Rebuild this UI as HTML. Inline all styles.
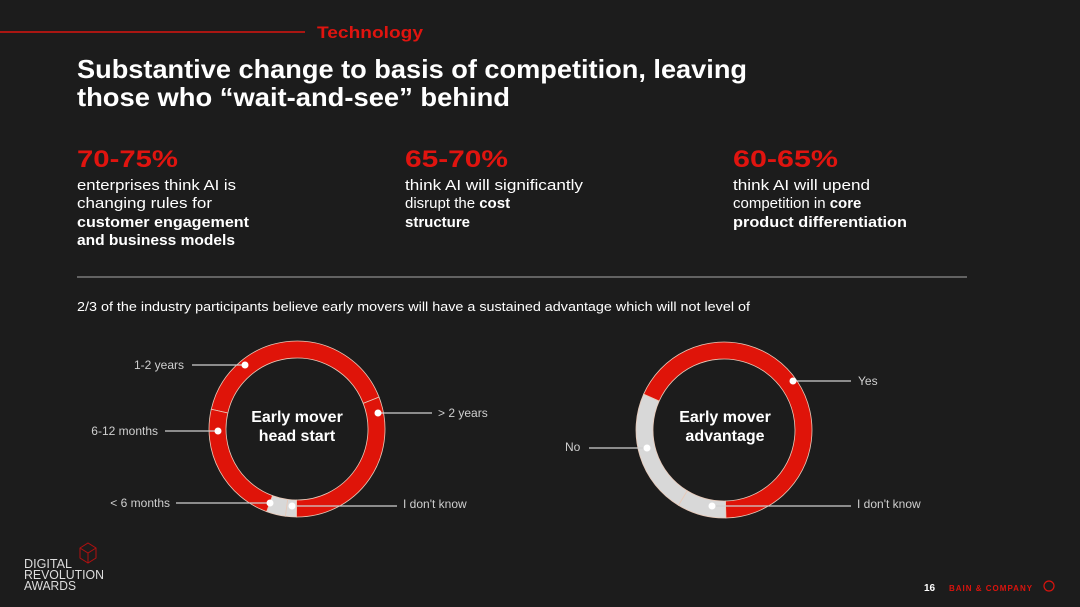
<!DOCTYPE html>
<html><head><meta charset="utf-8"><style>
html,body{margin:0;padding:0;background:#1c1c1c;}
svg{display:block;font-family:"Liberation Sans",sans-serif;}
</style></head><body>
<svg id="s" width="1080" height="607" viewBox="0 0 1080 607">
<rect width="1080" height="607" fill="#1c1c1c"/>
<line x1="0" y1="32" x2="305" y2="32" stroke="#d9140e" stroke-width="1.5"/>
<text x="317" y="38" fill="#e0140f" font-weight="bold" font-size="17" textLength="106" lengthAdjust="spacingAndGlyphs">Technology</text>
<g fill="#fff" font-weight="bold" font-size="26">
<text x="77" y="78" textLength="670" lengthAdjust="spacingAndGlyphs">Substantive change to basis of competition, leaving</text>
<text x="77" y="106" textLength="433" lengthAdjust="spacingAndGlyphs">those who “wait-and-see” behind</text>
</g>
<g>
<text x="77" y="167" fill="#e0140f" font-weight="bold" font-size="24" textLength="101" lengthAdjust="spacingAndGlyphs">70-75%</text>
<g fill="#fff" font-size="15">
<text x="77" y="190" textLength="159" lengthAdjust="spacingAndGlyphs">enterprises think AI is</text>
<text x="77" y="208" textLength="135" lengthAdjust="spacingAndGlyphs">changing rules for</text>
<text x="77" y="227" font-weight="bold" textLength="172" lengthAdjust="spacingAndGlyphs">customer engagement</text>
<text x="77" y="245" font-weight="bold" textLength="158" lengthAdjust="spacingAndGlyphs">and business models</text>
</g></g>
<g>
<text x="405" y="167" fill="#e0140f" font-weight="bold" font-size="24" textLength="103" lengthAdjust="spacingAndGlyphs">65-70%</text>
<g fill="#fff" font-size="15">
<text x="405" y="190" textLength="178" lengthAdjust="spacingAndGlyphs">think AI will significantly</text>
<text x="405" y="208">disrupt the <tspan font-weight="bold">cost</tspan></text>
<text x="405" y="227" font-weight="bold">structure</text>
</g></g>
<g>
<text x="733" y="167" fill="#e0140f" font-weight="bold" font-size="24" textLength="105" lengthAdjust="spacingAndGlyphs">60-65%</text>
<g fill="#fff" font-size="15">
<text x="733" y="190" textLength="137" lengthAdjust="spacingAndGlyphs">think AI will upend</text>
<text x="733" y="208">competition in <tspan font-weight="bold">core</tspan></text>
<text x="733" y="227" font-weight="bold" textLength="174" lengthAdjust="spacingAndGlyphs">product differentiation</text>
</g></g>
<line x1="77" y1="277" x2="967" y2="277" stroke="#7a7a7a" stroke-width="1.5"/>
<text x="77" y="311" fill="#fff" font-size="13" textLength="673" lengthAdjust="spacingAndGlyphs">2/3 of the industry participants believe early movers will have a sustained advantage which will not level of</text>
<g id="d1"></g>
<g id="d2"></g>
<text x="297" y="422" fill="#fff" font-weight="bold" font-size="16" text-anchor="middle">Early mover</text>
<text x="297" y="441" fill="#fff" font-weight="bold" font-size="16" text-anchor="middle">head start</text>
<text x="725" y="422" fill="#fff" font-weight="bold" font-size="16" text-anchor="middle">Early mover</text>
<text x="725" y="441" fill="#fff" font-weight="bold" font-size="16" text-anchor="middle">advantage</text>
<g id="labels" fill="#cfcfcf" font-size="12"></g>
<g fill="#ddd" font-size="13">
<path d="M80 548 l8 -5 l8 5 v10 l-8 5 l-8 -5z M80 548 l8 5 l8 -5 M88 553 v10" fill="none" stroke="#b01010" stroke-width="1"/>
<text x="24" y="568" textLength="48" lengthAdjust="spacingAndGlyphs">DIGITAL</text>
<text x="24" y="579" textLength="80" lengthAdjust="spacingAndGlyphs">REVOLUTION</text>
<text x="24" y="590" textLength="52" lengthAdjust="spacingAndGlyphs">AWARDS</text>
</g>
<text x="924" y="591" fill="#fff" font-weight="bold" font-size="10">16</text>
<text x="949" y="591" fill="#d9140e" font-weight="bold" font-size="8" letter-spacing="1">BAIN &amp; COMPANY</text>
<circle cx="1049" cy="586" r="5" fill="none" stroke="#d9140e" stroke-width="1.2"/>
</svg>
<script>
// Donut 1: clockwise from top
const d1Categories = ["1-2 years", "> 2 years", "I don't know", "< 6 months", "6-12 months"];
const d1Values = [40.5, 31, 2, 3.5, 23];
const d1Start = -77; // degrees from top where first segment begins
// Donut 2
const d2Categories = ["Yes", "I don't know", "No"];
const d2Values = [68, 9, 23];
const d2Start = -66;

const RED = "#df1409", GRAY = "#d8d8d8";
const d1Colors = [RED, RED, GRAY, GRAY, RED];
const d2Colors = [RED, GRAY, GRAY];
const NS = "http://www.w3.org/2000/svg";
function pt(cx, cy, r, deg) { const a = deg * Math.PI / 180; return [cx + r * Math.sin(a), cy - r * Math.cos(a)]; }
function drawDonut(gid, cats, vals, colors, start, cx, cy) {
  const g = document.getElementById(gid);
  const total = vals.reduce((a, b) => a + b, 0);
  const ro = 88, ri = 71;
  let ang = start;
  vals.forEach((v, i) => {
    const sweep = v / total * 360, a0 = ang, a1 = ang + sweep;
    const large = sweep > 180 ? 1 : 0;
    const p0 = pt(cx, cy, ro, a0), p1 = pt(cx, cy, ro, a1), q1 = pt(cx, cy, ri, a1), q0 = pt(cx, cy, ri, a0);
    const p = document.createElementNS(NS, "path");
    p.setAttribute("d", `M${p0} A${ro} ${ro} 0 ${large} 1 ${p1} L${q1} A${ri} ${ri} 0 ${large} 0 ${q0}Z`);
    p.setAttribute("fill", colors[i]);
    p.setAttribute("stroke", "#e8c9b8");
    p.setAttribute("stroke-width", "0.8");
    
    
    const t = document.createElementNS(NS, "title"); t.textContent = cats[i] + ": " + v + "%"; p.appendChild(t);
    g.appendChild(p);
    ang = a1;
  });
}
drawDonut("d1", d1Categories, d1Values, d1Colors, d1Start, 297, 429);
drawDonut("d2", d2Categories, d2Values, d2Colors, d2Start, 724, 430);

// callout labels: [text, textX, textY, anchor, lineX1, lineX2, dotX, dotY]
const callouts = [
  ["1-2 years", 184, 369, "end", 192, 245, 245, 365],
  ["6-12 months", 158, 435, "end", 165, 218, 218, 431],
  ["< 6 months", 170, 507, "end", 176, 270, 270, 503],
  ["I don't know", 403, 508, "start", 292, 397, 292, 506],
  ["> 2 years", 438, 417, "start", 378, 432, 378, 413],
  ["Yes", 858, 385, "start", 793, 851, 793, 381],
  ["No", 565, 451, "start", 589, 647, 647, 448],
  ["I don't know", 857, 508, "start", 712, 851, 712, 506]
];
const lg = document.getElementById("labels");
callouts.forEach(c => {
  const l = document.createElementNS(NS, "line");
  l.setAttribute("x1", c[4]); l.setAttribute("x2", c[5]);
  const ly = c[3] === "end" || c[0] === "No" ? c[7] : c[7];
  l.setAttribute("y1", ly); l.setAttribute("y2", ly);
  l.setAttribute("stroke", "#cfcfcf"); l.setAttribute("stroke-width", "1.2");
  
  
  lg.appendChild(l);
  const d = document.createElementNS(NS, "circle");
  d.setAttribute("cx", c[6]); d.setAttribute("cy", c[7]); d.setAttribute("r", 3.5); d.setAttribute("fill", "#fff");
  
  
  lg.appendChild(d);
  const t = document.createElementNS(NS, "text");
  t.setAttribute("x", c[1]); t.setAttribute("y", c[2]); t.setAttribute("text-anchor", c[3]);
  t.textContent = c[0];
  
  
  lg.appendChild(t);
});
</script>
</body></html>
